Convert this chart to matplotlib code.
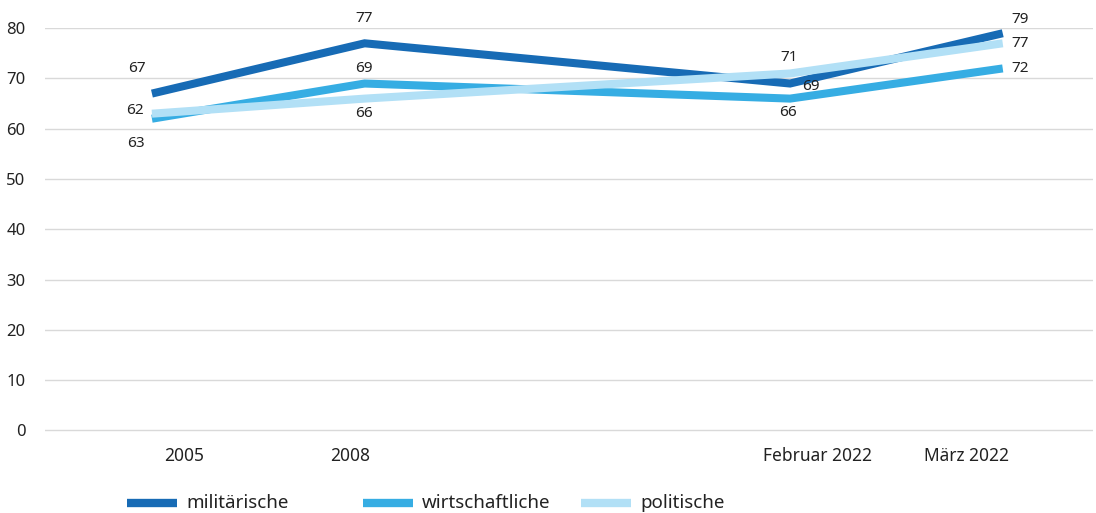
import matplotlib.pyplot as plt
from matplotlib.lines import Line2D

# data
categories = ['2005', '2008', 'Februar 2022', 'März 2022']
x_pos = [0, 1, 3, 4]
militaerische = [67, 77, 69, 79]
wirtschaftliche = [62, 69, 66, 72]
politische = [63, 66, 71, 77]

plt.rcParams['font.family'] = ['Noto Sans', 'DejaVu Sans']

fig = plt.figure(figsize=(10.96, 5.13), dpi=100)
ax = fig.add_axes([0.041, 0.158, 0.956, 0.787])

colors = ['#176bb5', '#36ade3', '#b2e0f6']
series = [('militärische', militaerische), ('wirtschaftliche', wirtschaftliche), ('politische', politische)]
for (name, vals), c in zip(series, colors):
    ax.plot(x_pos, vals, color=c, lw=5.8, solid_capstyle='butt', solid_joinstyle='miter', label=name, zorder=3)

# value labels, offsets in pixels
offsets = [
    [(-15, 25), (-1, 25), (21, -3), (17, 14)],
    [(-17, 8), (-1, 15), (-2, -14), (17, 0)],
    [(-16, -30), (-1, -15), (-1, 16), (17, 0)],
]
for (name, vals), offs in zip(series, offsets):
    for x, v, o in zip(x_pos, vals, offs):
        ax.annotate(str(v), (x, v), xytext=o, textcoords='offset pixels',
                    ha='center', va='center', fontsize=11, color='#222222',
                    annotation_clip=False, zorder=5)

ax.set_xlim(-0.503, 4.423)
ax.set_ylim(-0.3, 80)
ax.set_yticks(range(0, 81, 10))
ax.grid(axis='y', color='#d9d9d9', lw=1)
ax.set_axisbelow(True)
for s in ax.spines.values():
    s.set_visible(False)
ax.tick_params(axis='y', length=0, pad=14, labelsize=12, labelcolor='#222222')

# category labels sit a bit off the data points in the original
label_shift = [0.15, -0.07, 0.13, -0.17]
ax.set_xticks([p + d for p, d in zip(x_pos, label_shift)])
ax.set_xticklabels(categories)
ax.tick_params(axis='x', length=0, pad=11, labelsize=12.5, labelcolor='#222222')

# legend drawn by hand (uneven spacing in the original)
legend_x = [127, 363, 581]
W, H = fig.bbox.width, fig.bbox.height
ly = 1 - 503 / 513
for (name, _), c, lx in zip(series, colors, legend_x):
    fig.add_artist(Line2D([lx / W, (lx + 50) / W], [ly, ly], color=c, lw=6, solid_capstyle='butt'))
    fig.text((lx + 59) / W, ly, name, ha='left', va='center', fontsize=13.5, color='#222222')

fig.savefig('out.png', dpi=100)
